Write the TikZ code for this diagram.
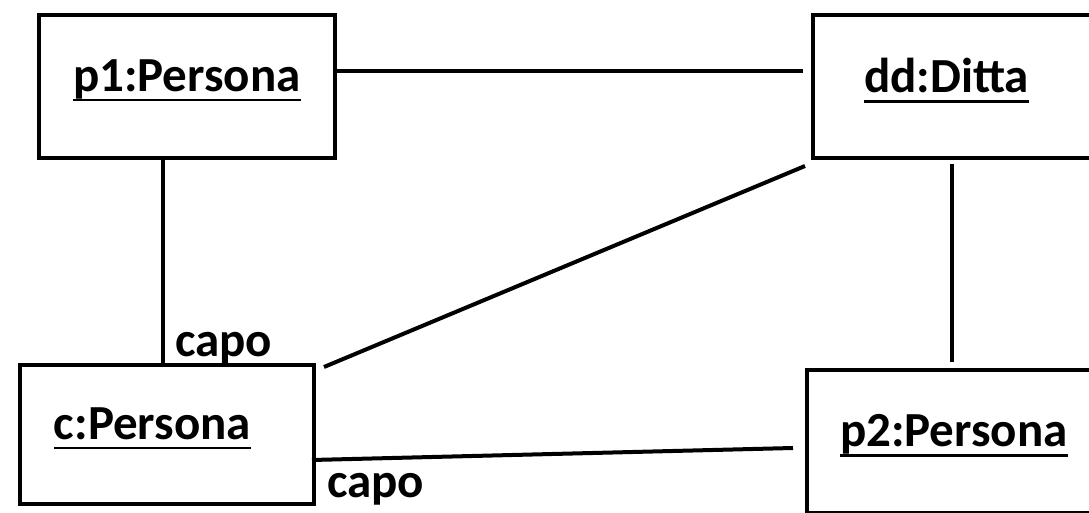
\documentclass[tikz,border=0pt]{standalone}
\usepackage{fontspec}
\setmainfont{Carlito}
\usetikzlibrary{calc}
\newlength{\namewd}
\newcommand{\objname}[1]{\settowidth{\namewd}{#1}\rlap{#1}\rule[-5pt]{\namewd}{1.2pt}\rule[-11pt]{0pt}{11pt}}
\tikzset{
  obj/.style={draw,line width=2pt,anchor=north west,minimum height=71.5pt,align=left,font=\fontsize{24.5}{28}\selectfont\bfseries},
  role/.style={anchor=base west,font=\fontsize{24.5}{28}\selectfont\bfseries},
  link/.style={line width=2pt}
}
\begin{document}
\begin{tikzpicture}[x=0.5pt,y=-0.5pt]
    \clip(0,0)rectangle(1089,513);
    \node[obj,inner xsep=17pt,text width=114pt](p1)at(37,13){\objname{p1:Persona}};
    \node[obj,inner xsep=25.5pt,text width=100pt](dd)at(811,13){\objname{dd:Ditta}};
    \node[obj,inner xsep=17pt,text width=113pt,minimum height=69.5pt](c)at(18,363){\objname{c:Persona}};
    \node[obj,inner xsep=16.5pt,text width=125pt](p2)at(805,368){\objname{p2:Persona}};
    \node[role](capo1)at(168,357){capo};
    \node[role](capo2)at(320,498){capo};
    \draw[link]($(p1.north east)+(0,58)$)--($(dd.north west)+(-8,58)$);
    \draw[link]($(p1.south west)+(126,0)$)--($(c.north west)+(145,0)$);
    \draw[link]($(dd.south west)+(-6,6)$)--($(c.north east)+(8,4)$);
    \draw[link]($(dd.south west)+(141,4)$)--($(p2.north west)+(147,-6)$);
    \draw[link]($(c.south east)+(-4,-46)$)--($(p2.north west)+(-12,80)$);
\end{tikzpicture}
\end{document}
